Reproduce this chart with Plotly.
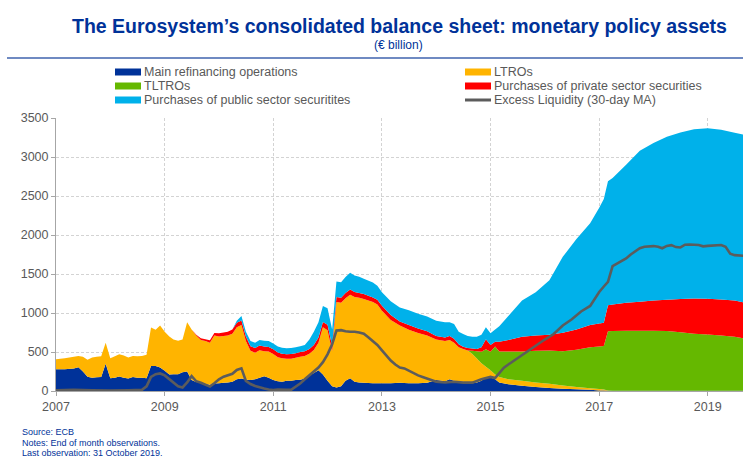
import plotly.graph_objects as go

# Month-end observations (plotted at the start of the following month)
dates = [
    "2007-01", "2007-03", "2007-05", "2007-06", "2007-07", "2007-08", "2007-09", "2007-10", "2007-11", "2007-12",
    "2008-01", "2008-02", "2008-03", "2008-04", "2008-05", "2008-06", "2008-07", "2008-08", "2008-09", "2008-10", "2008-11", "2008-12",
    "2009-01", "2009-02", "2009-03", "2009-04", "2009-05", "2009-06", "2009-07", "2009-08", "2009-09", "2009-10", "2009-11", "2009-12",
    "2010-01", "2010-02", "2010-03", "2010-04", "2010-05", "2010-06", "2010-07", "2010-08", "2010-09", "2010-10", "2010-11", "2010-12",
    "2011-01", "2011-02", "2011-03", "2011-04", "2011-05", "2011-06", "2011-07", "2011-08", "2011-09", "2011-10", "2011-11", "2011-12",
    "2012-01", "2012-02", "2012-03", "2012-04", "2012-05", "2012-06", "2012-07", "2012-08", "2012-09", "2012-11", "2012-12",
    "2013-01", "2013-03", "2013-05", "2013-07", "2013-09", "2013-11",
    "2014-01", "2014-03", "2014-04", "2014-05", "2014-06", "2014-07", "2014-08", "2014-09", "2014-10", "2014-11", "2014-12",
    "2015-01", "2015-02", "2015-03", "2015-05", "2015-08", "2015-11",
    "2016-02", "2016-05", "2016-08", "2016-11",
    "2017-01", "2017-02", "2017-03", "2017-04", "2017-07", "2017-10",
    "2018-01", "2018-04", "2018-07", "2018-10",
    "2019-01", "2019-04", "2019-07", "2019-09", "2019-10",
]

main_refinancing = [
    278, 280, 290, 303, 250, 184, 170, 175, 180, 350,
    165, 170, 185, 170, 160, 180, 170, 170, 165, 320, 320, 300,
    260, 210, 215, 215, 240, 250, 140, 115, 105, 90, 80, 95,
    100, 105, 110, 120, 150, 160, 145, 140, 150, 170, 190, 170,
    140, 125, 120, 130, 130, 140, 145, 160, 200, 230, 265, 210,
    130, 60, 45, 60, 130, 165, 120, 110, 105, 100, 100,
    100, 100, 105, 100, 100, 105,
    140, 125, 150, 130, 125, 120, 110, 100, 110, 130, 175,
    175, 150, 110, 85, 66, 50,
    40, 30, 22, 15,
    8, 5, 3, 3, 3, 3,
    3, 3, 3, 3,
    3, 3, 3, 3, 3,
]

ltros = [
    128, 140, 150, 146, 190, 216, 260, 265, 265, 270,
    255, 275, 285, 285, 270, 270, 275, 280, 300, 495, 465, 540,
    500, 490, 445, 430, 420, 630, 650, 595, 550, 550, 540, 615,
    600, 600, 600, 615, 667, 685, 495, 375, 340, 353, 321, 335,
    334, 309, 299, 282, 284, 285, 295, 290, 278, 296, 354, 607,
    650, 450, 1095, 1070, 1060, 1070, 1085, 1085, 1075, 1040, 1010,
    930, 810, 735, 685, 645, 605,
    520, 515, 505, 490, 435, 420, 410, 375, 308, 225, 135,
    90, 60, 68, 65, 66, 60,
    52, 40, 30, 20,
    17, 15, 2, 0, 0, 0,
    0, 0, 0, 0,
    0, 0, 0, 0, 0,
]

tltros = [0] * 75 + [
    0, 0, 0, 0, 0, 0, 0, 40, 92, 149, 224,
    239, 360, 327, 355, 373, 405,
    428, 440, 478, 525,
    547, 557, 760, 765, 769, 771,
    769, 765, 749, 732,
    722, 709, 692, 672, 667,
]

private_sector = [0] * 22 + [
    0, 0, 0, 0, 0, 0, 0, 10, 20, 25, 30, 35,
    40, 45, 50, 55, 58, 60, 60, 60, 60, 60, 60, 60,
    60, 60, 60, 60, 60, 60, 60, 60, 62, 64, 66, 68,
    70, 70, 65, 65, 65, 65, 63, 63, 63, 60, 60,
    62, 65, 50, 60, 55, 55,
    45, 45, 50, 50, 40, 28, 30, 30, 30, 56, 128,
    86, 60, 125, 150, 190, 195,
    202, 238, 260, 285,
    293, 299, 335, 342, 358, 371,
    388, 402, 428, 451,
    457, 460, 465, 460, 470,
]

public_sector = [0] * 34 + [
    0, 0, 0, 0, 25, 55, 60, 65, 70, 72, 74, 75,
    76, 76, 76, 76, 76, 75, 75, 80, 120, 170, 195, 205,
    210, 210, 200, 200, 205, 215, 212, 207, 197, 190, 180,
    175, 175, 180, 190, 190, 190,
    195, 195, 175, 190, 160, 162, 155, 152, 157, 160, 154,
    150, 160, 200, 305, 465, 555,
    698, 972, 1160, 1305,
    1485, 1584, 1590, 1620, 1770, 1935,
    2020, 2090, 2135, 2169,
    2186, 2178, 2150, 2150, 2140,
]

liquidity_dates = [
    "2007-01", "2007-05", "2007-09", "2008-01", "2008-05", "2008-08", "2008-09", "2008-10", "2008-11", "2008-12",
    "2009-01", "2009-02", "2009-03", "2009-04", "2009-05", "2009-06", "2009-07", "2009-08", "2009-09", "2009-10", "2009-11", "2009-12",
    "2010-01", "2010-02", "2010-03", "2010-04", "2010-05", "2010-06", "2010-07", "2010-08", "2010-09", "2010-10", "2010-11", "2010-12",
    "2011-01", "2011-02", "2011-03", "2011-04", "2011-05", "2011-06", "2011-07", "2011-08", "2011-09", "2011-10", "2011-11", "2011-12",
    "2012-01", "2012-02", "2012-03", "2012-04", "2012-05", "2012-06", "2012-07", "2012-08", "2012-09", "2012-10", "2012-11", "2012-12",
    "2013-01", "2013-02", "2013-03", "2013-04", "2013-05", "2013-06", "2013-07", "2013-08", "2013-09", "2013-10", "2013-11", "2013-12",
    "2014-01", "2014-03", "2014-05", "2014-07", "2014-09", "2014-11",
    "2015-01", "2015-02", "2015-03", "2015-04", "2015-05", "2015-07", "2015-09", "2015-11",
    "2016-01", "2016-03", "2016-05", "2016-07", "2016-09", "2016-11",
    "2017-01", "2017-02", "2017-03", "2017-04", "2017-05", "2017-06", "2017-07", "2017-08", "2017-09", "2017-10", "2017-11",
    "2018-01", "2018-02", "2018-03", "2018-04", "2018-05", "2018-06", "2018-07", "2018-08", "2018-09", "2018-11", "2018-12",
    "2019-01", "2019-03", "2019-04", "2019-05", "2019-06", "2019-07", "2019-09", "2019-10",
]

excess_liquidity = [
    10, 15, 10, 5, 10, 15, 60, 180, 215, 225,
    200, 150, 100, 60, 45, 110, 190, 125, 105, 80, 56, 100,
    150, 184, 200, 220, 270, 290, 130, 90, 65, 45, 32, 20,
    13, 18, 21, 15, 15, 50, 95, 150, 200, 245, 300, 370,
    470, 600, 775, 780, 765, 760, 760, 750, 735, 690, 640, 590,
    520, 450, 390, 340, 300, 290, 260, 230, 200, 180, 160, 140,
    120, 110, 118, 107, 107, 150,
    180, 165, 230, 300, 340, 420, 500, 590,
    660, 730, 840, 920, 1020, 1090,
    1270, 1340, 1400, 1600, 1630, 1660, 1700, 1750, 1790, 1830, 1850,
    1858, 1850, 1830, 1860, 1870, 1845, 1840, 1875, 1878, 1872, 1855,
    1860, 1868, 1872, 1850, 1760, 1742, 1730, 1730,
]

year_ticks = ["2007-01-01", "2009-01-01", "2011-01-01", "2013-01-01",
              "2015-01-01", "2017-01-01", "2019-01-01"]
year_labels = ["2007", "2009", "2011", "2013", "2015", "2017", "2019"]
value_ticks = [0, 500, 1000, 1500, 2000, 2500, 3000, 3500]

ECB_BLUE = "#003299"
GREY_TEXT = "#595959"
NARROW = "Liberation Sans Narrow, Arial Narrow, Liberation Sans, Arial, sans-serif"

areas = [
    ("Main refinancing operations", main_refinancing, "#003299"),
    ("LTROs", ltros, "#FFB400"),
    ("TLTROs", tltros, "#65B800"),
    ("Purchases of private sector securities", private_sector, "#FF0000"),
    ("Purchases of public sector securitites", public_sector, "#00B1EA"),
]

fig = go.Figure()
for name, values, colour in areas:
    fig.add_trace(go.Scatter(
        x=dates, y=values, name=name, mode="none",
        stackgroup="assets", fillcolor=colour, showlegend=False,
    ))

fig.add_trace(go.Scatter(
    x=liquidity_dates, y=excess_liquidity, name="Excess Liquidity (30-day MA)",
    mode="lines", line=dict(color="#5C5C5C", width=2.6), showlegend=False,
))

# plot area in page pixels
L, R, T, B = 56, 743, 118, 391
W, H = 743, 459


def px(x):
    return (x - L) / (R - L)


def py(y):
    return (B - y) / (B - T)


shapes = []
annotations = []

# headline and subtitle
annotations.append(dict(
    text="<b>The Eurosystem’s consolidated balance sheet: monetary policy assets</b>",
    x=px(399), y=py(26), xref="paper", yref="paper", showarrow=False,
    xanchor="center", yanchor="middle",
    font=dict(family=NARROW, size=19.5, color=ECB_BLUE),
))
annotations.append(dict(
    text="(€ billion)", x=px(398), y=py(45), xref="paper", yref="paper",
    showarrow=False, xanchor="center", yanchor="middle",
    font=dict(family=NARROW, size=12, color=ECB_BLUE),
))
shapes.append(dict(
    type="line", xref="paper", yref="paper",
    x0=px(7), x1=px(743), y0=py(58), y1=py(58),
    line=dict(color="#3F63AE", width=1.5),
))

# legend, two columns
legend_items = [
    ("Main refinancing operations", "#003299", "box", 115, 72),
    ("LTROs", "#FFB400", "box", 465, 72),
    ("TLTROs", "#65B800", "box", 115, 86),
    ("Purchases of private sector securities", "#FF0000", "box", 465, 86),
    ("Purchases of public sector securitites", "#00B1EA", "box", 115, 100),
    ("Excess Liquidity (30-day MA)", "#5C5C5C", "line", 465, 100),
]
for label, colour, kind, x0, yc in legend_items:
    if kind == "box":
        shapes.append(dict(
            type="rect", xref="paper", yref="paper",
            x0=px(x0), x1=px(x0 + 26), y0=py(yc + 3.5), y1=py(yc - 3.5),
            fillcolor=colour, line=dict(width=0),
        ))
    else:
        shapes.append(dict(
            type="line", xref="paper", yref="paper",
            x0=px(x0), x1=px(x0 + 26), y0=py(yc), y1=py(yc),
            line=dict(color=colour, width=3),
        ))
    annotations.append(dict(
        text=label, x=px(x0 + 27), y=py(yc), xref="paper", yref="paper",
        showarrow=False, xanchor="left", yanchor="middle",
        font=dict(family=NARROW, size=12.5, color=GREY_TEXT),
    ))

# footnotes
for text, yc in [("Source: ECB", 432),
                 ("Notes: End of month observations.", 442.5),
                 ("Last observation: 31 October 2019.", 453)]:
    annotations.append(dict(
        text=text, x=px(20), y=py(yc), xref="paper", yref="paper",
        showarrow=False, xanchor="left", yanchor="middle",
        font=dict(family=NARROW, size=9, color=ECB_BLUE),
    ))

axis_common = dict(
    showgrid=True, gridcolor="#D3D3D3", griddash="3px,2px", gridwidth=1,
    ticks="outside", ticklen=4, tickcolor="#A6A6A6",
    showline=True, linecolor="#A6A6A6", linewidth=1,
    tickfont=dict(family=NARROW, size=12.5, color=GREY_TEXT),
    zeroline=False, fixedrange=True,
)

fig.update_layout(
    width=W, height=H,
    margin=dict(l=L, r=W - R, t=T, b=H - B, pad=0),
    paper_bgcolor="white", plot_bgcolor="white",
    xaxis=dict(type="date", range=["2007-01-01", "2019-08-26"],
               tickmode="array", tickvals=year_ticks, ticktext=year_labels,
               **axis_common),
    yaxis=dict(range=[0, 3500], tickmode="array", tickvals=value_ticks,
               **axis_common),
    shapes=shapes, annotations=annotations,
    hovermode=False,
)

fig.write_html("out.html")
